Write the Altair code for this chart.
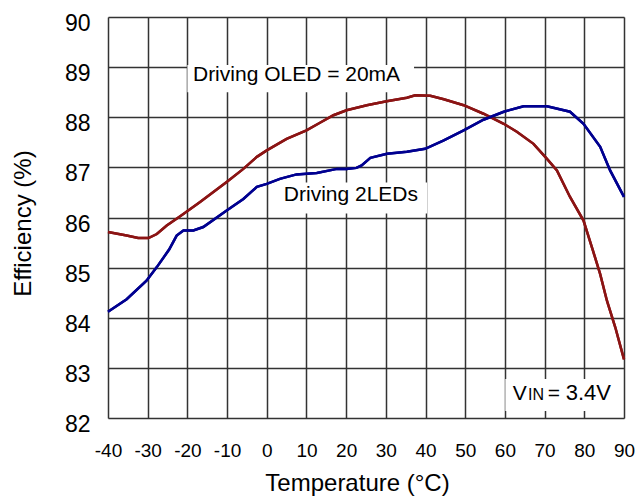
import altair as alt
import pandas as pd

# ---- data ----
oled_temp = [-40, -35.3, -32.4, -29.8, -27.7, -25.2, -21.9, -16.8, -10.1, -5.9, -2.5, 0, 5, 10,
             13.4, 16.8, 20.1, 25.2, 30.2, 35.3, 37.4, 41.2, 44.6, 49.6, 54.6, 59.7, 63, 67.2,
             70.6, 73.1, 76.4, 79.8, 82.1, 84, 85.7, 87.8, 90]
oled_eff = [85.71, 85.64, 85.59, 85.59, 85.67, 85.84, 86.02, 86.31, 86.71, 86.97, 87.21, 87.34,
            87.57, 87.74, 87.89, 88.04, 88.14, 88.24, 88.32, 88.39, 88.44, 88.43, 88.36, 88.24,
            88.07, 87.87, 87.71, 87.47, 87.17, 86.94, 86.41, 85.94, 85.36, 84.87, 84.34, 83.81,
            83.17]

led_temp = [-40, -35.3, -30.3, -27.7, -24.6, -22.7, -21, -18.5, -16, -10.1, -5.9, -2.5, 0, 3.3,
            7.5, 12.6, 17.7, 20.1, 22.6, 23.9, 26.1, 30.3, 35.3, 39.9, 44.6, 49.6, 54.6, 59.7,
            64.7, 70.6, 76.4, 79.8, 84, 86.5, 90]
led_eff = [84.12, 84.37, 84.74, 85.01, 85.36, 85.64, 85.74, 85.74, 85.81, 86.14, 86.37, 86.61,
           86.67, 86.77, 86.86, 86.89, 86.97, 86.97, 86.99, 87.04, 87.19, 87.27, 87.31, 87.37,
           87.54, 87.74, 87.95, 88.11, 88.22, 88.22, 88.11, 87.87, 87.41, 86.94, 86.41]

series_names = ["Driving OLED = 20mA", "Driving 2LEDs"]
series_colors = ["#8B1414", "#000090"]

x_ticks = list(range(-40, 91, 10))
y_ticks = list(range(82, 91, 1))

x_title = "Temperature (\u00b0C)"
y_title = "Efficiency (%)"

FONT = "Liberation Sans"

df = pd.concat([
    pd.DataFrame({"t": oled_temp, "eff": oled_eff, "s": series_names[0], "o": range(len(oled_temp))}),
    pd.DataFrame({"t": led_temp, "eff": led_eff, "s": series_names[1], "o": range(len(led_temp))}),
])

x_scale = alt.Scale(domain=[-40, 90], nice=False, zero=False)
y_scale = alt.Scale(domain=[82, 90], nice=False, zero=False)

x_axis = alt.Axis(values=x_ticks, title=x_title, grid=True,
                  gridColor="#333333", gridWidth=1.5, ticks=False, domain=False,
                  labelFont=FONT, labelFontSize=19, labelColor="#000",
                  labelPadding=23, labelFlush=False, labelOverlap=False,
                  labelExpr="toString(datum.value)",
                  titleFont=FONT, titleFontSize=24, titleFontWeight="normal",
                  titleColor="#000", titleX=249, titleY=65, titleBaseline="middle",
                  titleAlign="center")
y_axis = alt.Axis(values=y_ticks, title=y_title, grid=True,
                  gridColor="#333333", gridWidth=1.5, ticks=False, domain=False,
                  labelFont=FONT, labelFontSize=23, labelColor="#000",
                  labelPadding=18, labelFlush=False, labelOverlap=False, labelOffset=6.5,
                  titleFont=FONT, titleFontSize=24, titleFontWeight="normal",
                  titleColor="#000", titleX=-85, titleY=206, titleBaseline="middle",
                  titleAlign="center", titleAngle=270)


def X(field):
    return alt.X(field, scale=x_scale, axis=x_axis)


def Y(field):
    return alt.Y(field, scale=y_scale, axis=y_axis)


lines = alt.Chart(df).mark_line(strokeWidth=2.5).encode(
    x=X("t:Q"), y=Y("eff:Q"), order="o:Q",
    color=alt.Color("s:N", scale=alt.Scale(domain=series_names, range=series_colors), legend=None),
)

# annotation boxes (white backgrounds) and texts, in data coordinates
box_df = pd.DataFrame({
    "x1": [-20, 3.3, 60.1], "x2": [37.1, 40.4, 89],
    "y1": [88.5, 86.08, 82.14], "y2": [89.04, 86.7, 82.78],
})
boxes = alt.Chart(box_df).mark_rect(color="white").encode(
    x=X("x1:Q"), x2="x2:Q", y=Y("y1:Q"), y2="y2:Q",
)

lab_df = pd.DataFrame({"x": [7.5, 21.2], "y": [88.84, 86.44], "txt": series_names})
labels = alt.Chart(lab_df).mark_text(font=FONT, fontSize=21, color="#000", baseline="middle").encode(
    x=X("x:Q"), y=Y("y:Q"), text="txt:N")

vin_df = pd.DataFrame({"x": [62.0, 65.8, 70.8, 75.3], "y": [82.35, 82.35, 82.35, 82.35],
                       "txt": ["V", "IN", "=", "3.4V"], "sz": [21, 16, 21, 22]})
vin = alt.Chart(vin_df).mark_text(font=FONT, color="#000", baseline="alphabetic", align="left").encode(
    x=X("x:Q"), y=Y("y:Q"), text="txt:N",
    size=alt.Size("sz:Q", scale=None, legend=None))

chart = alt.layer(lines, boxes, labels, vin, lines).properties(
    width=516, height=401,
    autosize=alt.AutoSizeParams(type="none"),
    padding={"left": 108, "top": 17, "right": 13, "bottom": 82},
).configure_view(stroke="#000", strokeWidth=2).configure(background="white")

chart.save("out.html", embed_options={"renderer": "svg", "actions": False})
